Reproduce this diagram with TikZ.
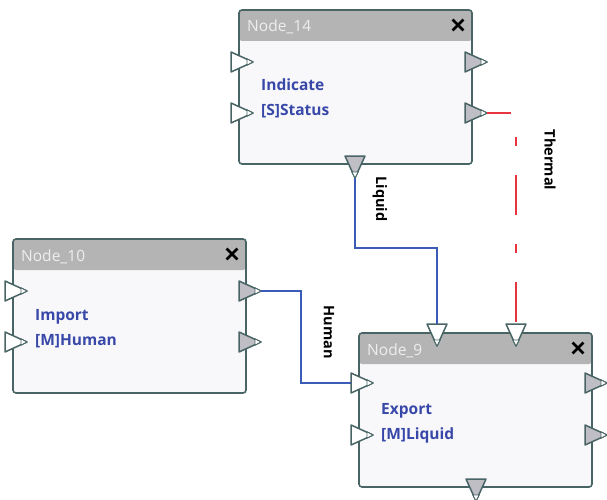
\documentclass[tikz,border=0pt]{standalone}
\usepackage{fontspec}
\setmainfont{Open Sans}
\usetikzlibrary{shapes.misc,calc}

\definecolor{edgec}{RGB}{72,100,100}
\definecolor{bodyc}{RGB}{248,247,250}
\definecolor{headc}{RGB}{180,180,180}
\definecolor{headtxt}{RGB}{238,238,238}
\definecolor{portgray}{RGB}{190,190,196}
\definecolor{labelblue}{RGB}{56,72,168}
\definecolor{flowblue}{RGB}{58,92,182}
\definecolor{flowred}{RGB}{232,52,62}

\tikzset{
  box/.style={draw=edgec, line width=1.6pt, fill=bodyc, rounded corners=3pt,
    minimum width=233pt, minimum height=154pt, inner sep=0pt, outer sep=0pt,
    anchor=north west,
    path picture={\fill[headc] (path picture bounding box.north west)
      rectangle ([yshift=-31pt]path picture bounding box.north east);}},
  headtext/.style={anchor=base west, inner sep=0pt, text=headtxt,
    font=\fontsize{15.5}{18}\selectfont},
  bodytext/.style={anchor=base west, inner sep=0pt, text=labelblue,
    font=\fontsize{15.5}{18}\selectfont\bfseries},
  closex/.style={cross out, draw=black, line width=2.8pt, minimum size=8pt,
    inner sep=0pt},
  flowlabel/.style={rotate=-90, inner sep=0pt, text=black,
    font=\fontsize{14.5}{17}\selectfont\bfseries},
  bluewire/.style={draw=flowblue, line width=1.4pt},
  thermalwire/.style={draw=flowred, line width=1.4pt,
    dash pattern=on 40pt off 29pt on 9pt off 29pt, dash phase=16pt},
  port/.pic={
    \filldraw[fill=#1, draw=edgec, line width=1.5pt, line join=round]
      (-8,-10) -- (14,0) -- (-8,10) -- cycle;
    \filldraw[fill=white, draw=edgec, line width=0.9pt, line join=round]
      (8,-3.2) -- (14,0) -- (8,3.2) -- cycle;
    \coordinate (-tip) at (14,0);
    \coordinate (-base) at (-8,0);
  },
}

\begin{document}
\begin{tikzpicture}[x=1pt, y=-1pt]
\useasboundingbox (0,0) rectangle (607,500);

% ---------- Node_14 ----------
\node[box] (n14) at (239,10) {};
\node[headtext] (n14h) at ($(n14.north west)+(8,22)$) {Node\_14};
\node[closex] (n14x) at ($(n14.north east)+(-14,15)$) {};
\node[bodytext] (n14a) at ($(n14.north west)+(22,81)$) {Indicate};
\node[bodytext] (n14b) at ($(n14.north west)+(22,106)$) {[S]Status};
\pic (p14l1) at ($(n14.north west)+(0,52)$) {port=white};
\pic (p14l2) at ($(n14.north west)+(0,103)$) {port=white};
\pic (p14r1) at ($(n14.north east)+(1,52)$) {port=portgray};
\pic (p14r2) at ($(n14.north east)+(1,103)$) {port=portgray};
\pic[rotate=-90] (p14d) at ($(n14.south west)+(116,0)$) {port=portgray};

% ---------- Node_10 ----------
\node[box] (n10) at (13,239) {};
\node[headtext] (n10h) at ($(n10.north west)+(8,22)$) {Node\_10};
\node[closex] (n10x) at ($(n10.north east)+(-14,15)$) {};
\node[bodytext] (n10a) at ($(n10.north west)+(22,81)$) {Import};
\node[bodytext] (n10b) at ($(n10.north west)+(22,106)$) {[M]Human};
\pic (p10l1) at ($(n10.north west)+(0,52)$) {port=white};
\pic (p10l2) at ($(n10.north west)+(0,103)$) {port=white};
\pic (p10r1) at ($(n10.north east)+(1,52)$) {port=portgray};
\pic (p10r2) at ($(n10.north east)+(1,103)$) {port=portgray};

% ---------- Node_9 ----------
\node[box] (n9) at (359,333) {};
\node[headtext] (n9h) at ($(n9.north west)+(8,22)$) {Node\_9};
\node[closex] (n9x) at ($(n9.north east)+(-14,15)$) {};
\node[bodytext] (n9a) at ($(n9.north west)+(22,81)$) {Export};
\node[bodytext] (n9b) at ($(n9.north west)+(22,106)$) {[M]Liquid};
\pic (p9l1) at ($(n9.north west)+(0,50)$) {port=white};
\pic (p9l2) at ($(n9.north west)+(0,102)$) {port=white};
\pic (p9r1) at ($(n9.north east)+(1,50)$) {port=portgray};
\pic (p9r2) at ($(n9.north east)+(1,102)$) {port=portgray};
\pic[rotate=-90] (p9t1) at ($(n9.north west)+(78,-1)$) {port=white};
\pic[rotate=-90] (p9t2) at ($(n9.north west)+(157,-1)$) {port=white};
\pic[rotate=-90] (p9d) at ($(n9.south west)+(117,0)$) {port=portgray};

% ---------- connectors ----------
\draw[bluewire] (p14d-tip) -- ++(0,70) -| (p9t1-base);
\draw[bluewire] (p10r1-tip) -- ++(40,0) |- (p9l1-base);
\draw[thermalwire] (p14r2-tip) -| (p9t2-base);

\node[flowlabel] (lliquid) at (380,199) {Liquid};
\node[flowlabel] (lhuman) at (329,332) {Human};
\node[flowlabel] (lthermal) at (550,160) {Thermal};
\end{tikzpicture}
\end{document}
